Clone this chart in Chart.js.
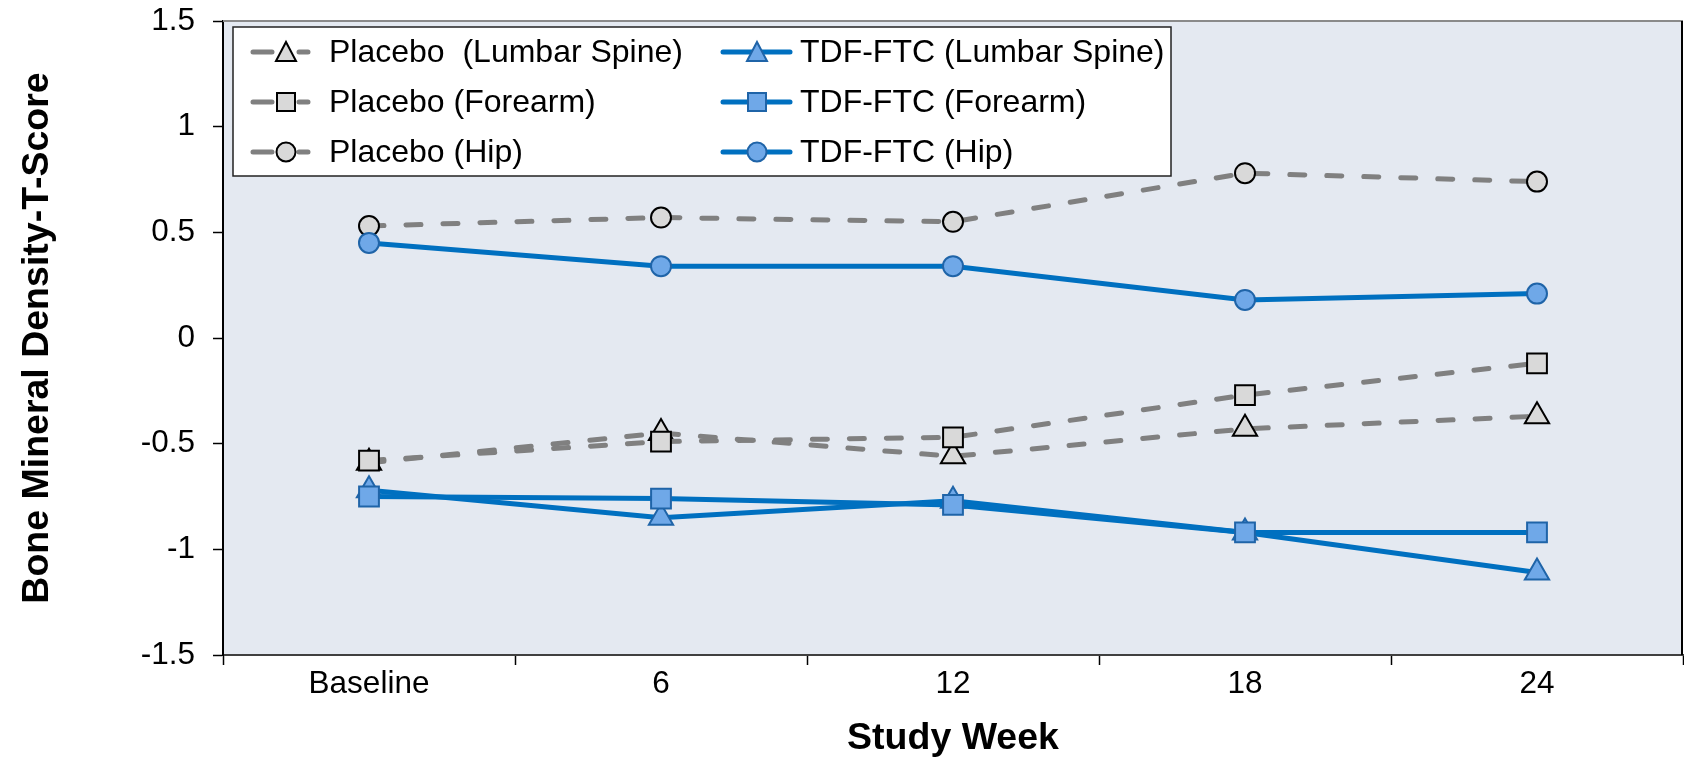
<!DOCTYPE html>
<html>
<head>
<meta charset="utf-8">
<script src="https://cdn.jsdelivr.net/npm/chart.js@4/dist/chart.umd.min.js"></script>
<style>
  html, body { margin: 0; padding: 0; background: #fff; }
  #grafico { display: block; }
</style>
</head>
<body>
<canvas id="grafico" width="1684" height="759"></canvas>
<script>
const semanas = ["Baseline", "6", "12", "18", "24"];
const yTicks = [-1.5, -1, -0.5, 0, 0.5, 1, 1.5];

const placeboLumbar = [-0.59, -0.45, -0.56, -0.43, -0.37];
const placeboForearm = [-0.58, -0.49, -0.47, -0.27, -0.12];
const placeboHip = [0.53, 0.57, 0.55, 0.78, 0.74];
const tdfLumbar = [-0.72, -0.85, -0.77, -0.92, -1.11];
const tdfForearm = [-0.75, -0.76, -0.79, -0.92, -0.92];
const tdfHip = [0.45, 0.34, 0.34, 0.18, 0.21];

const FUENTE = "'Liberation Sans', Arial, sans-serif";
const GRIS = "#808080";
const AZUL = "#0070c0";

const placebo = (label, data, estilo, radio) => ({
  label, data,
  borderColor: GRIS, borderWidth: 5, borderDash: [15, 22], borderCapStyle: "round",
  pointStyle: estilo, pointRadius: radio, pointHoverRadius: radio,
  pointBackgroundColor: "#d9d9d9", pointBorderColor: "#000", pointBorderWidth: 2,
  tension: 0, fill: false,
});

const tdf = (label, data, estilo, radio) => ({
  label, data,
  borderColor: AZUL, borderWidth: 5,
  pointStyle: estilo, pointRadius: radio, pointHoverRadius: radio,
  pointBackgroundColor: "#6fa8e8", pointBorderColor: "#1f64a8", pointBorderWidth: 2,
  tension: 0, fill: false,
});

const datasets = [
  placebo("Placebo  (Lumbar Spine)", placeboLumbar, "triangle", 14),
  placebo("Placebo (Forearm)", placeboForearm, "rect", 14),
  placebo("Placebo (Hip)", placeboHip, "circle", 10),
  tdf("TDF-FTC (Lumbar Spine)", tdfLumbar, "triangle", 14),
  tdf("TDF-FTC (Forearm)", tdfForearm, "rect", 14),
  tdf("TDF-FTC (Hip)", tdfHip, "circle", 10),
];
// later datasets on top
datasets.forEach((d, i) => { d.order = datasets.length - i; });

// fondo del area y bordes superior/derecho
const fondo = {
  id: "fondo",
  beforeDraw(chart) {
    const { ctx, chartArea: a } = chart;
    ctx.save();
    ctx.fillStyle = "#e4e9f1";
    ctx.fillRect(a.left, a.top, a.right - a.left, a.bottom - a.top);
    ctx.restore();
  },
  beforeDatasetsDraw(chart) {
    const { ctx, chartArea: a } = chart;
    ctx.save();
    ctx.lineWidth = 2;
    ctx.strokeStyle = "#8a8a8a";
    ctx.beginPath();
    ctx.moveTo(a.left, a.top);
    ctx.lineTo(a.right, a.top);
    ctx.stroke();
    ctx.strokeStyle = "#000";
    ctx.beginPath();
    ctx.moveTo(a.right - 1, a.top);
    ctx.lineTo(a.right - 1, a.bottom);
    ctx.stroke();
    ctx.restore();
  },
};

function marca(ctx, estilo, x, y) {
  ctx.beginPath();
  if (estilo === "triangle") {
    ctx.moveTo(x, y - 10);
    ctx.lineTo(x + 10, y + 9);
    ctx.lineTo(x - 10, y + 9);
    ctx.closePath();
  } else if (estilo === "rect") {
    ctx.rect(x - 9, y - 9, 18, 18);
  } else {
    ctx.arc(x, y, 9.5, 0, Math.PI * 2);
  }
  ctx.fill();
  ctx.stroke();
}

// leyenda dentro del area, dos columnas
const leyenda = {
  id: "leyenda",
  afterDraw(chart) {
    const { ctx } = chart;
    const cols = [
      { x0: 252, x1: 309, m: 286, t: 329 },
      { x0: 721, x1: 792, m: 757, t: 800 },
    ];
    const filas = [52, 102, 152];
    ctx.save();
    ctx.fillStyle = "#fff";
    ctx.fillRect(233, 27, 938, 149);
    ctx.lineWidth = 1.5;
    ctx.strokeStyle = "#222";
    ctx.strokeRect(233, 27, 938, 149);
    chart.data.datasets.forEach((d, i) => {
      const c = cols[Math.floor(i / 3)];
      const y = filas[i % 3];
      ctx.lineCap = "round";
      ctx.lineWidth = 5;
      ctx.strokeStyle = d.borderColor;
      ctx.beginPath();
      if (d.borderDash) {
        ctx.moveTo(c.x0 + 1, y); ctx.lineTo(c.m - 14, y);
        ctx.moveTo(c.m + 13, y); ctx.lineTo(c.x1 - 1, y);
      } else {
        ctx.moveTo(c.x0 + 2, y); ctx.lineTo(c.x1 - 2, y);
      }
      ctx.stroke();
      ctx.lineWidth = 2;
      ctx.fillStyle = d.pointBackgroundColor;
      ctx.strokeStyle = d.pointBorderColor;
      marca(ctx, d.pointStyle, c.m, y);
      ctx.fillStyle = "#000";
      ctx.font = "32px " + FUENTE;
      ctx.textBaseline = "middle";
      ctx.textAlign = "left";
      ctx.fillText(d.label, c.t, y + 1);
    });
    ctx.restore();
  },
};

const sinRelleno = (scale) => {
  scale.paddingTop = 0; scale.paddingBottom = 0;
  scale.paddingLeft = 0; scale.paddingRight = 0;
};

new Chart(document.getElementById("grafico"), {
  type: "line",
  data: { labels: semanas, datasets },
  plugins: [fondo, leyenda],
  options: {
    responsive: false,
    devicePixelRatio: 1,
    animation: false,
    layout: { autoPadding: false, padding: { left: 0, right: 1, top: 21, bottom: 0 } },
    plugins: { legend: { display: false }, tooltip: { enabled: false } },
    scales: {
      x: {
        offset: true,
        grid: { offset: true, drawOnChartArea: false, drawTicks: true, tickLength: 10, tickColor: "#000", tickWidth: 1.5 },
        border: { display: true, color: "#404040", width: 2 },
        ticks: { color: "#000", font: { family: FUENTE, size: 31.5 }, padding: 0, maxRotation: 0 },
        title: {
          display: true, text: "Study Week", color: "#000",
          font: { family: FUENTE, size: 37.5, weight: "bold", lineHeight: 1 },
          padding: { top: 0, bottom: 2 },
        },
        afterFit(scale) { scale.height = 104; sinRelleno(scale); },
      },
      y: {
        min: -1.5, max: 1.5,
        afterBuildTicks(scale) { scale.ticks = yTicks.map(v => ({ value: v })); },
        grid: { drawOnChartArea: false, drawTicks: true, tickLength: 10, tickColor: "#000", tickWidth: 1.5 },
        border: { display: true, color: "#000", width: 2 },
        ticks: { color: "#000", font: { family: FUENTE, size: 31.5 }, padding: 18, callback: v => String(v) },
        title: {
          display: true, text: "Bone Mineral Density-T-Score", color: "#000",
          font: { family: FUENTE, size: 37.5, weight: "bold", lineHeight: 1.2 },
          padding: { top: 15, bottom: 0 },
        },
        afterFit(scale) { scale.width = 223; sinRelleno(scale); },
      },
    },
  },
});
</script>
</body>
</html>
